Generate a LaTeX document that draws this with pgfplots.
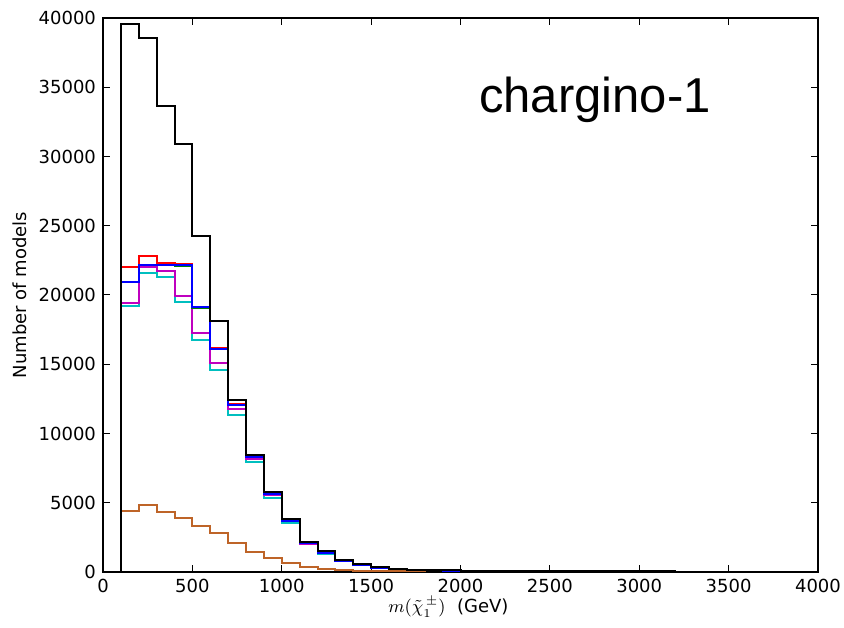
\documentclass[border=0pt]{standalone}
\usepackage{fontspec}
\setmainfont{DejaVu Sans}
\newfontfamily\arialfont{Liberation Sans}
\usepackage{pgfplots}
\pgfplotsset{compat=1.18}
\definecolor{hred}{RGB}{255,0,0}
\definecolor{hblue}{RGB}{0,0,255}
\definecolor{hgreen}{RGB}{0,128,0}
\definecolor{hmag}{RGB}{191,0,191}
\definecolor{hcyan}{RGB}{0,191,191}
\definecolor{hbrown}{RGB}{190,100,40}
\begin{document}
\begin{tikzpicture}
\begin{axis}[
  scale only axis, width=357.5pt, height=277pt,
  xmin=0, xmax=4000, ymin=0, ymax=40000,
  xtick={0,500,...,4000}, ytick={0,5000,...,40000},
  scaled ticks=false,
  /pgf/number format/1000 sep={},
  /pgf/number format/assume math mode=true,
  tick label style={font=\fontsize{9}{10}\selectfont},
  tick style={black, line width=0.5pt}, major tick length=3.5pt,
  axis line style={line width=0.6pt},
  xlabel={$m(\tilde{\chi}_1^{\,\pm})$\ \ (GeV)},
  ylabel={Number of models},
  label style={font=\fontsize{9}{10}\selectfont},
  xlabel style={at={(axis description cs:0.483,0)}, anchor=center, yshift=-17.5pt},
  ylabel style={at={(axis description cs:-0.116,0.5)}, anchor=center, rotate=0},
  every axis plot/.append style={const plot, line width=1pt, no marks},
]
\coordinate (bl) at (axis description cs:0,0);
\coordinate (tr) at (axis description cs:1,1);
% brown
\addplot[hbrown] coordinates {(100,0)(100,4400)(200,4840)(300,4330)(400,3910)(500,3350)(600,2780)(700,2120)(800,1470)(900,990)(1000,670)(1100,380)(1200,220)(1300,140)(1400,100)(1500,70)(1600,50)(1700,40)(1800,0)};
% cyan
\addplot[hcyan] coordinates {(100,0)(100,19200)(200,21610)(300,21280)(400,19520)(500,16780)(600,14600)(700,11310)(800,7920)(900,5370)(1000,3560)(1100,2000)(1200,1330)(1300,780)(1400,500)(1500,300)(1600,200)(1700,150)(1800,120)(1900,100)(2000,95)(2100,90)(2200,80)(2300,95)(2400,70)(2500,65)(2600,60)(2700,60)(2800,55)(2900,50)(3000,0)};
% magenta
\addplot[hmag] coordinates {(100,0)(100,19440)(200,22040)(300,21750)(400,19930)(500,17280)(600,15100)(700,11750)(800,8140)(900,5540)(1000,3650)(1100,2050)(1200,1380)(1300,800)(1400,520)(1500,310)(1600,205)(1700,155)(1800,120)(1900,100)(2000,95)(2100,90)(2200,80)(2300,95)(2400,70)(2500,65)(2600,60)(2700,60)(2800,55)(2900,50)(3000,0)};
% green
\addplot[hgreen] coordinates {(100,0)(100,20950)(200,22150)(300,22150)(400,22100)(500,19080)(600,16080)(700,12040)(800,8310)(900,5600)(1000,3690)(1100,2070)(1200,1400)(1300,820)(1400,530)(1500,320)(1600,210)(1700,160)(1800,125)(1900,100)(2000,95)(2100,90)(2200,80)(2300,95)(2400,70)(2500,65)(2600,60)(2700,60)(2800,55)(2900,50)(3000,0)};
% red
\addplot[hred] coordinates {(100,0)(100,22000)(200,22850)(300,22330)(400,22240)(500,19150)(600,16200)(700,12100)(800,8350)(900,5650)(1000,3720)(1100,2100)(1200,1420)(1300,830)(1400,540)(1500,330)(1600,215)(1700,160)(1800,125)(1900,100)(2000,95)(2100,90)(2200,80)(2300,95)(2400,70)(2500,65)(2600,60)(2700,60)(2800,55)(2900,50)(3000,0)};
% blue
\addplot[hblue] coordinates {(100,0)(100,20950)(200,22190)(300,22190)(400,22140)(500,19100)(600,16100)(700,12060)(800,8330)(900,5610)(1000,3700)(1100,2080)(1200,1400)(1300,820)(1400,530)(1500,320)(1600,210)(1700,160)(1800,125)(1900,100)(2000,95)(2100,90)(2200,80)(2300,95)(2400,70)(2500,65)(2600,60)(2700,60)(2800,55)(2900,50)(3000,0)};
% black
\addplot[black] coordinates {(100,0)(100,39550)(200,38550)(300,33620)(400,30900)(500,24250)(600,18100)(700,12400)(800,8450)(900,5750)(1000,3800)(1100,2150)(1200,1480)(1300,860)(1400,580)(1500,340)(1600,225)(1700,170)(1800,130)(1900,110)(2000,100)(2100,95)(2200,85)(2300,100)(2400,75)(2500,70)(2600,65)(2700,65)(2800,60)(2900,55)(3000,50)(3100,45)(3200,0)};
\node[font=\arialfont\fontsize{24.5}{28}\selectfont, anchor=center] at (axis description cs:0.688,0.852) {chargino-1};
\end{axis}
\pgfresetboundingbox
\path ([shift={(-51.5pt,-28pt)}]bl) rectangle ([shift={(13pt,9pt)}]tr);
\end{tikzpicture}
\end{document}
